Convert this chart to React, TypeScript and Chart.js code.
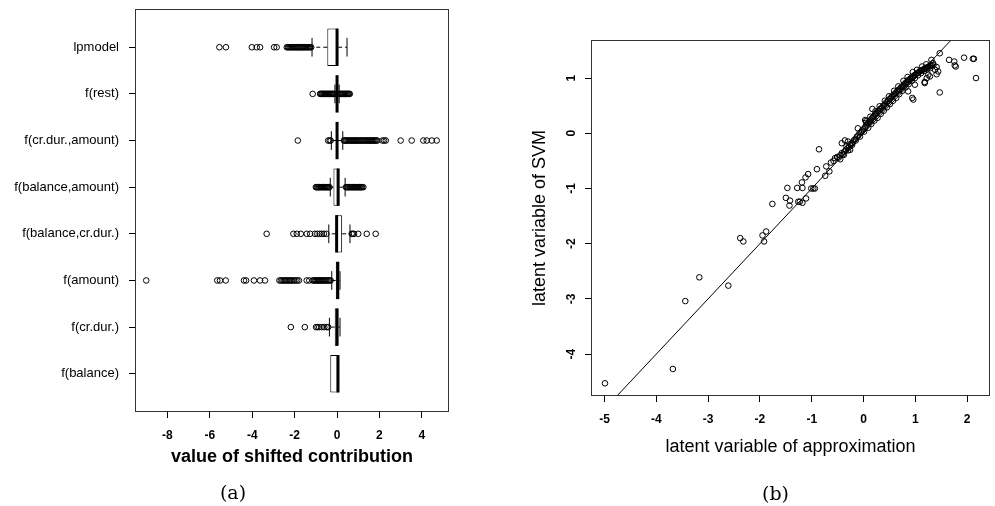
import React, { useEffect, useRef } from "react";
import { Chart, registerables } from "chart.js";
Chart.register(...registerables);

const FONT = "'Liberation Sans', Arial, Helvetica, sans-serif";
Chart.defaults.font.family = FONT;

// ---------- Panel (a): boxplots (bottom -> top) ----------
const categories = [
  "f(balance)",
  "f(cr.dur.)",
  "f(amount)",
  "f(balance,cr.dur.)",
  "f(balance,amount)",
  "f(cr.dur.,amount)",
  "f(rest)",
  "lpmodel",
];
const boxQ1 = [-0.32, -0.11, -0.06, -0.06, -0.17, -0.03, -0.03, -0.46];
const boxMed = [0.04, 0.0, 0.03, -0.02, 0.05, 0.0, 0.0, 0.0];
const boxQ3 = [0.11, 0.06, 0.11, 0.24, 0.11, 0.05, 0.03, 0.05];
const whiskLo = [-0.32, -0.36, -0.25, -0.39, -0.32, -0.27, -0.1, -1.18];
const whiskHi = [0.11, 0.14, 0.14, 0.61, 0.38, 0.27, 0.1, 0.47];

const outBalance: number[] = [];
const outCrDur = [-2.18, -1.52, -0.99, -0.92, -0.84, -0.72, -0.6, -0.49, -0.42];
const outAmount = [
  -9.0, -5.65, -5.52, -5.25, -4.39, -4.29, -3.92, -3.63, -3.4, -2.72, -2.65, -2.58,
  -2.52, -2.46, -2.4, -2.34, -2.28, -2.22, -2.16, -2.1, -2.03, -1.96, -1.88, -1.8,
  -1.43, -1.31, -1.15, -1.1, -1.05, -1.0, -0.95, -0.9, -0.85, -0.8, -0.75, -0.7,
  -0.65, -0.6, -0.55, -0.5, -0.45, -0.4, -0.35, -0.3,
];
const outBalCrDur = [
  -3.32, -2.06, -1.9, -1.71, -1.43, -1.27, -1.04, -0.93, -0.82, -0.72, -0.62, -0.5,
  0.69, 0.74, 0.8, 1.0, 1.4, 1.82,
];
const outBalAmt = [
  -1.0, -0.96, -0.92, -0.88, -0.84, -0.8, -0.76, -0.72, -0.68, -0.64, -0.6, -0.56,
  -0.52, -0.48, -0.44, -0.4, -0.36, 0.42, 0.46, 0.5, 0.54, 0.58, 0.62, 0.66, 0.7,
  0.74, 0.78, 0.82, 0.86, 0.9, 0.94, 0.98, 1.02, 1.06, 1.1, 1.14, 1.18, 1.24,
];
const outCrDurAmt = [
  -1.85, -0.42, -0.35, -0.3, 0.32, 0.36, 0.4, 0.45, 0.5, 0.55, 0.6, 0.65, 0.7, 0.75,
  0.8, 0.85, 0.9, 0.95, 1.0, 1.05, 1.1, 1.15, 1.2, 1.25, 1.3, 1.35, 1.4, 1.45, 1.5,
  1.55, 1.6, 1.65, 1.7, 1.75, 1.8, 1.85, 1.9, 2.14, 2.22, 2.3, 3.0, 3.52, 4.07, 4.23,
  4.47, 4.7,
];
const outRest = [
  -1.15, -0.8, -0.76, -0.72, -0.68, -0.64, -0.6, -0.56, -0.52, -0.48, -0.44, -0.4,
  -0.36, -0.32, -0.28, -0.24, -0.2, -0.16, -0.12, 0.12, 0.16, 0.2, 0.24, 0.28, 0.32,
  0.36, 0.4, 0.44, 0.48, 0.52, 0.56, 0.6,
];
const outLp = [
  -5.55, -5.24, -4.02, -3.79, -3.63, -2.97, -2.85, -2.37, -2.32, -2.27, -2.22, -2.17,
  -2.12, -2.07, -2.02, -1.97, -1.92, -1.87, -1.82, -1.77, -1.72, -1.67, -1.62, -1.57,
  -1.52, -1.47, -1.42, -1.37, -1.32, -1.27, -1.22,
];
const outliersByCat = [
  outBalance, outCrDur, outAmount, outBalCrDur, outBalAmt, outCrDurAmt, outRest, outLp,
];

const xTicksA = [-8, -6, -4, -2, 0, 2, 4];
const xRangeA = [-9.53, 5.28];
const yRangeA = [0.18, 8.82];

// ---------- Panel (b): scatter ----------
const sparseX = [
  -4.99, -3.68, -3.44, -3.17, -2.61, -2.38, -2.32, -1.95, -1.88, -1.92, -1.76, -1.5,
  -1.43, -1.42, -1.47, -1.28, -1.18, -1.19, -1.12, -1.07, -1.26, -1.23, -1.18, -1.11,
  -1.01, -0.97, -0.94, -0.9, -0.86, -0.74, -0.72, -0.66, -0.42, -0.36, -0.3, -0.23,
  -0.33, -0.26, -0.11, 0.03, 0.05, 0.17, 0.94, 0.96, 0.86, 0.99, 1.18, 1.22, 1.25,
  1.38, 1.41, 1.34, 1.31, 1.47, 1.47, 1.65, 1.75, 1.76, 1.78, 1.94, 2.11, 2.13, 2.17,
  1.41, 1.44, 1.28, 1.18,
];
const sparseY = [
  -4.53, -4.27, -3.04, -2.61, -2.76, -1.9, -1.96, -1.85, -1.78, -1.96, -1.28, -1.17,
  -1.31, -1.22, -0.99, -0.99, -0.99, -0.89, -0.8, -0.74, -1.24, -1.24, -1.26, -1.18,
  -1.0, -1.0, -1.0, -0.65, -0.29, -0.77, -0.6, -0.69, -0.18, -0.13, -0.15, -0.18,
  -0.24, -0.3, 0.09, 0.24, 0.19, 0.44, 0.64, 0.61, 0.76, 0.88, 0.91, 1.0, 1.06, 1.15,
  1.07, 1.27, 1.33, 1.45, 0.74, 1.33, 1.3, 1.23, 1.21, 1.37, 1.35, 1.35, 1.0, 1.2,
  1.12, 1.03, 0.93,
];
const bandX = [
  -0.63, -0.58, -0.55, -0.51, -0.48, -0.45, -0.42, -0.4, -0.37, -0.34, -0.31, -0.28,
  -0.26, -0.23, -0.2, -0.18, -0.15, -0.13, -0.1, -0.08, -0.05, -0.03, 0.0, 0.02, 0.04,
  0.06, 0.08, 0.1, 0.12, 0.14, 0.16, 0.18, 0.2, 0.22, 0.24, 0.26, 0.28, 0.3, 0.32,
  0.34, 0.36, 0.38, 0.4, 0.42, 0.44, 0.46, 0.48, 0.5, 0.52, 0.54, 0.56, 0.58, 0.6,
  0.62, 0.64, 0.66, 0.68, 0.7, 0.72, 0.74, 0.76, 0.78, 0.8, 0.82, 0.84, 0.86, 0.88,
  0.9, 0.92, 0.94, 0.96, 0.98, 1.0, 1.02, 1.04, 1.06, 1.08, 1.1, 1.12, 1.14, 1.16,
  1.18, 1.2, 1.22, 1.24, 1.26, 1.28, 1.3, 1.32, 1.35,
];
const bandY = [
  -0.53, -0.5, -0.45, -0.43, -0.44, -0.4, -0.36, -0.38, -0.33, -0.3, -0.27, -0.25,
  -0.2, -0.19, -0.15, -0.12, -0.1, -0.06, -0.04, 0.0, 0.02, 0.05, 0.07, 0.1, 0.12,
  0.15, 0.18, 0.19, 0.22, 0.24, 0.27, 0.29, 0.31, 0.34, 0.35, 0.37, 0.4, 0.41, 0.44,
  0.45, 0.47, 0.5, 0.51, 0.53, 0.56, 0.57, 0.59, 0.62, 0.63, 0.66, 0.67, 0.7, 0.71,
  0.73, 0.75, 0.77, 0.79, 0.8, 0.83, 0.84, 0.86, 0.88, 0.9, 0.92, 0.93, 0.96, 0.97,
  0.99, 1.0, 1.02, 1.03, 1.05, 1.06, 1.08, 1.09, 1.1, 1.12, 1.13, 1.14, 1.15, 1.16,
  1.17, 1.18, 1.19, 1.2, 1.21, 1.22, 1.22, 1.23, 1.24,
];
const band2X = [
  -0.45, -0.38, -0.3, -0.22, -0.15, -0.07, 0.01, 0.09, 0.15, 0.21, 0.27, 0.33, 0.39,
  0.45, 0.51, 0.57, 0.63, 0.69, 0.75, 0.81, 0.87, 0.93, 0.99, 1.05, 1.11, 1.17, 1.23,
  1.29, 0.05, 0.13, 0.23, 0.31, 0.41, 0.49, 0.59, 0.67, 0.77, 0.85, 0.95, 1.03, 1.13,
  1.21,
];
const band2Y = [
  -0.47, -0.39, -0.31, -0.21, -0.13, -0.06, 0.03, 0.1, 0.17, 0.23, 0.28, 0.35, 0.41,
  0.47, 0.53, 0.59, 0.64, 0.71, 0.77, 0.83, 0.89, 0.95, 1.0, 1.05, 1.09, 1.13, 1.16,
  1.18, 0.22, 0.3, 0.4, 0.49, 0.59, 0.67, 0.77, 0.85, 0.95, 1.02, 1.11, 1.15, 1.21,
  1.25,
];
const ablineX = [-6, 3];
const ablineY = [-6, 3];

const xTicksB = [-5, -4, -3, -2, -1, 0, 1, 2];
const yTicksB = [-4, -3, -2, -1, 0, 1];
const xRangeB = [-5.26, 2.44];
const yRangeB = [-4.76, 1.69];

const frame = {
  id: "frame",
  afterDraw(chart: any) {
    const { ctx, chartArea: a } = chart;
    ctx.save();
    ctx.strokeStyle = "#333";
    ctx.lineWidth = 1;
    ctx.strokeRect(Math.round(a.left) + 0.5, Math.round(a.top) + 0.5, Math.round(a.right - a.left) - 1, Math.round(a.bottom - a.top) - 1);
    ctx.restore();
  },
};

const boxExtras = {
  id: "boxExtras",
  beforeDatasetsDraw(chart: any) {
    const { ctx } = chart;
    const xs = chart.scales.x;
    const ys = chart.scales.y;
    ctx.save();
    ctx.strokeStyle = "#000";
    ctx.lineWidth = 1;
    categories.forEach((_, i) => {
      const yc = ys.getPixelForValue(i + 1);
      const half = Math.abs(ys.getPixelForValue(i + 1.2) - yc);
      const segs = [
        [boxQ1[i], whiskLo[i]],
        [boxQ3[i], whiskHi[i]],
      ];
      segs.forEach(([from, to]) => {
        if (from === to) return;
        const p0 = xs.getPixelForValue(from);
        const p1 = xs.getPixelForValue(to);
        ctx.setLineDash([4, 3]);
        ctx.beginPath();
        ctx.moveTo(p0, yc);
        ctx.lineTo(p1, yc);
        ctx.stroke();
        ctx.setLineDash([]);
        ctx.beginPath();
        ctx.moveTo(p1, yc - half);
        ctx.lineTo(p1, yc + half);
        ctx.stroke();
      });
    });
    ctx.restore();
  },
  afterDatasetsDraw(chart: any) {
    const { ctx } = chart;
    const xs = chart.scales.x;
    const ys = chart.scales.y;
    ctx.save();
    ctx.strokeStyle = "#000";
    ctx.lineWidth = 3;
    categories.forEach((_, i) => {
      const yTop = ys.getPixelForValue(i + 1.4);
      const yBot = ys.getPixelForValue(i + 0.6);
      const px = xs.getPixelForValue(boxMed[i]);
      ctx.beginPath();
      ctx.moveTo(px, yTop);
      ctx.lineTo(px, yBot);
      ctx.stroke();
    });
    ctx.restore();
  },
};

const yTickLabelsB = {
  id: "yTickLabelsB",
  afterDraw(chart: any) {
    const { ctx, chartArea } = chart;
    const ys = chart.scales.y;
    ctx.save();
    ctx.font = `bold 12px ${FONT}`;
    ctx.fillStyle = "#000";
    ctx.textAlign = "center";
    ctx.textBaseline = "middle";
    yTicksB.forEach((v) => {
      const py = ys.getPixelForValue(v);
      ctx.save();
      ctx.translate(chartArea.left - 19, py);
      ctx.rotate(-Math.PI / 2);
      ctx.fillText(String(v), 0, 0);
      ctx.restore();
    });
    ctx.restore();
  },
};

const noPad = (s: any) => {
  s.paddingTop = 0;
  s.paddingBottom = 0;
  s.paddingLeft = 0;
  s.paddingRight = 0;
};

function buildA(): any {
  const outlierPts: { x: number; y: number }[] = [];
  outliersByCat.forEach((arr, i) => arr.forEach((v) => outlierPts.push({ x: v, y: i + 1 })));
  const boxData = categories.map((_, i) => ({ x: [boxQ1[i], boxQ3[i]], y: i + 1 }));
  return {
    type: "bar",
    data: {
      datasets: [
        {
          type: "scatter",
          data: outlierPts,
          pointRadius: 2.8,
          pointBorderWidth: 1,
          borderColor: "#000",
          backgroundColor: "rgba(0,0,0,0)",
        },
        {
          type: "bar",
          data: boxData,
          backgroundColor: "#fff",
          borderColor: "#000",
          borderWidth: 1,
          borderSkipped: false,
          barPercentage: 0.8,
          categoryPercentage: 1,
        },
      ],
    },
    options: {
      indexAxis: "y",
      responsive: false,
      animation: false,
      devicePixelRatio: 1,
      events: [],
      layout: { padding: { left: 0, right: 546, top: 9, bottom: 0 } },
      plugins: { legend: { display: false }, tooltip: { enabled: false } },
      scales: {
        x: {
          type: "linear",
          min: xRangeA[0],
          max: xRangeA[1],
          afterBuildTicks: (s: any) => {
            s.ticks = xTicksA.map((v) => ({ value: v }));
          },
          afterFit: (s: any) => {
            s.height = 94;
            noPad(s);
          },
          grid: { drawOnChartArea: false, drawTicks: true, tickLength: 6, color: "#000" },
          border: { display: false },
          ticks: {
            autoSkip: false,
            maxRotation: 0,
            padding: 10,
            color: "#000",
            font: { size: 12, weight: "bold" },
            callback: (v: any) => String(v),
          },
          title: {
            display: true,
            text: "value of shifted contribution",
            color: "#000",
            font: { size: 18, weight: "bold" },
            padding: { top: 0, bottom: 38.5 },
          },
        },
        y: {
          type: "linear",
          min: yRangeA[0],
          max: yRangeA[1],
          offset: false,
          afterBuildTicks: (s: any) => {
            s.ticks = categories.map((_, i) => ({ value: i + 1 }));
          },
          afterFit: (s: any) => {
            s.width = 135;
            noPad(s);
          },
          grid: { offset: false, drawOnChartArea: false, drawTicks: true, tickLength: 6, color: "#000" },
          border: { display: false },
          ticks: {
            autoSkip: false,
            padding: 10,
            color: "#000",
            font: { size: 13 },
            callback: (v: any) => categories[Math.round(v) - 1],
          },
        },
      },
    },
    plugins: [boxExtras, frame],
  };
}

function buildB(): any {
  const pts: { x: number; y: number }[] = [];
  sparseX.forEach((v, i) => pts.push({ x: v, y: sparseY[i] }));
  bandX.forEach((v, i) => pts.push({ x: v, y: bandY[i] }));
  band2X.forEach((v, i) => pts.push({ x: v, y: band2Y[i] }));
  const line = ablineX.map((v, i) => ({ x: v, y: ablineY[i] }));
  return {
    type: "scatter",
    data: {
      datasets: [
        {
          data: pts,
          pointRadius: 2.8,
          pointBorderWidth: 1,
          borderColor: "#000",
          backgroundColor: "rgba(0,0,0,0)",
        },
        {
          type: "line",
          data: line,
          borderColor: "#000",
          borderWidth: 1,
          pointRadius: 0,
          showLine: true,
          fill: false,
        },
      ],
    },
    options: {
      responsive: false,
      animation: false,
      devicePixelRatio: 1,
      events: [],
      layout: { padding: { left: 520, right: 5, top: 40, bottom: 0 } },
      plugins: { legend: { display: false }, tooltip: { enabled: false } },
      scales: {
        x: {
          type: "linear",
          min: xRangeB[0],
          max: xRangeB[1],
          afterBuildTicks: (s: any) => {
            s.ticks = xTicksB.map((v) => ({ value: v }));
          },
          afterFit: (s: any) => {
            s.height = 110;
            noPad(s);
          },
          grid: { drawOnChartArea: false, drawTicks: true, tickLength: 6, color: "#000" },
          border: { display: false },
          ticks: {
            autoSkip: false,
            maxRotation: 0,
            padding: 10,
            color: "#000",
            font: { size: 12, weight: "bold" },
            callback: (v: any) => String(v),
          },
          title: {
            display: true,
            text: "latent variable of approximation",
            color: "#000",
            font: { size: 18 },
            padding: { top: 0, bottom: 48.5 },
          },
        },
        y: {
          type: "linear",
          min: yRangeB[0],
          max: yRangeB[1],
          afterBuildTicks: (s: any) => {
            s.ticks = yTicksB.map((v) => ({ value: v }));
          },
          afterFit: (s: any) => {
            s.width = 71;
            noPad(s);
          },
          grid: { drawOnChartArea: false, drawTicks: true, tickLength: 6, color: "#000" },
          border: { display: false },
          ticks: { display: false },
          title: {
            display: true,
            text: "latent variable of SVM",
            color: "#000",
            font: { size: 18 },
            padding: { top: 9.2, bottom: 0 },
          },
        },
      },
    },
    plugins: [yTickLabelsB, frame],
  };
}

export default function App() {
  const refA = useRef<HTMLCanvasElement>(null);
  const refB = useRef<HTMLCanvasElement>(null);
  useEffect(() => {
    const a = new Chart(refA.current as HTMLCanvasElement, buildA());
    const b = new Chart(refB.current as HTMLCanvasElement, buildB());
    return () => {
      a.destroy();
      b.destroy();
    };
  }, []);
  const cap: React.CSSProperties = {
    position: "absolute",
    transform: "translate(-50%, -50%)",
    fontFamily: "'DejaVu Serif', serif",
    fontSize: 19,
    lineHeight: 1,
    color: "#000",
    whiteSpace: "nowrap",
  };
  return (
    <div style={{ position: "absolute", left: 0, top: 0, width: 995, height: 506, background: "#fff", overflow: "hidden" }}>
      <canvas ref={refA} width={995} height={506} style={{ position: "absolute", left: 0, top: 0, width: 995, height: 506 }} />
      <canvas ref={refB} width={995} height={506} style={{ position: "absolute", left: 0, top: 0, width: 995, height: 506 }} />
      <span style={{ ...cap, left: 233, top: 492 }}>(a)</span>
      <span style={{ ...cap, left: 775.5, top: 493 }}>(b)</span>
    </div>
  );
}
